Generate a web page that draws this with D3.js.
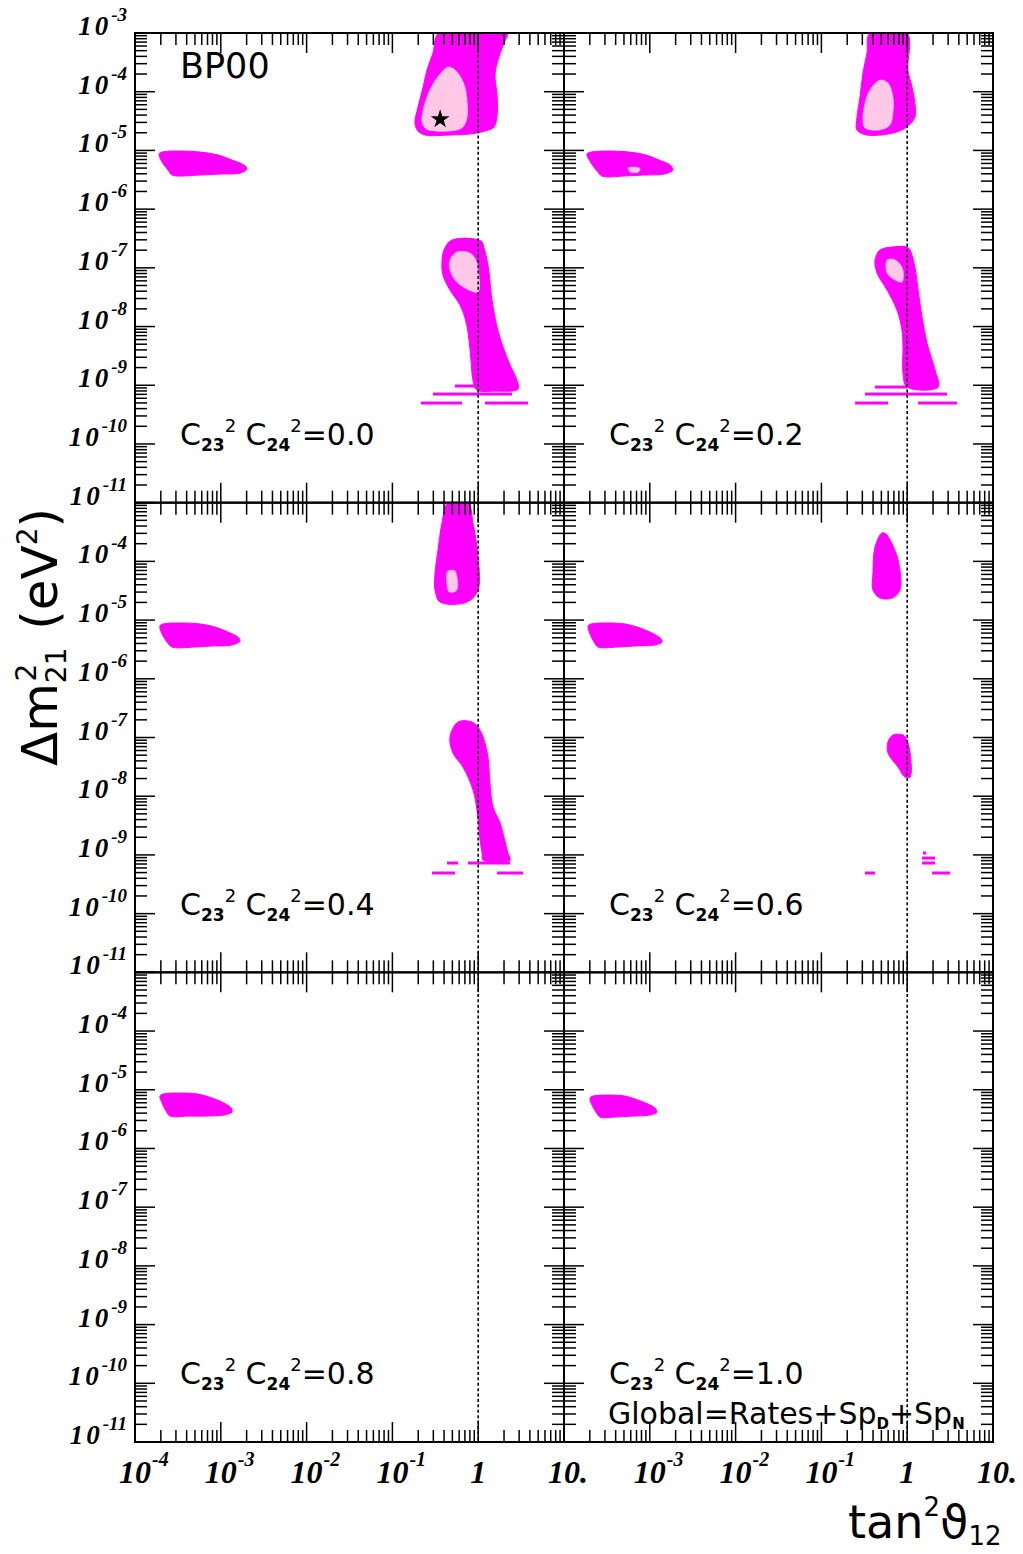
<!DOCTYPE html>
<html><head><meta charset="utf-8">
<script src="https://cdn.jsdelivr.net/npm/d3@7"></script>
<style>body{margin:0;background:#fff}</style>
</head><body>
<svg id="chart" width="1023" height="1554"></svg>
<script>
// ---------------- data ----------------
const panelValues = ["0.0","0.2","0.4","0.6","0.8","1.0"];
const xDomain = [1e-4, 10];
const yDomain = [1e-11, 1e-3];
const yTickExponents = [-3,-4,-5,-6,-7,-8,-9,-10,-11];
const xTickValuesLeft = [1e-4, 1e-3, 1e-2, 1e-1, 1, 10];
const xTickTextLeft = [["10","-4"],["10","-3"],["10","-2"],["10","-1"],["1",""],["10.",""]];
const xTickValuesRight = [1e-3, 1e-2, 1e-1, 1, 10];
const xTickTextRight = [["10","-3"],["10","-2"],["10","-1"],["1",""],["10.",""]];
const bestFit = [0.36, 3.4e-5];

// panel 1 : C23^2 C24^2 = 0.0
const p1VacOuter = [[1.91e-4,8.69e-6],[2.07e-4,9.39e-6],[3.34e-4,9.77e-6],[5.73e-4,9.39e-6],[9.27e-4,8.35e-6],[1.35e-3,6.86e-6],[1.86e-3,5.64e-6],[2.02e-3,4.82e-6],[1.68e-3,4.12e-6],[9.80e-4,3.96e-6],[5.73e-4,3.81e-6],[2.70e-4,3.81e-6],[2.43e-4,4.63e-6],[2.07e-4,6.34e-6]];
const p1LmaOuter = [[0.349,1e-3],[0.297,4.56e-4],[0.253,2.34e-4],[0.228,1.20e-4],[0.199,5.49e-5],[0.183,2.93e-5],[0.199,2.14e-5],[0.240,1.83e-5],[0.469,1.83e-5],[0.80,1.90e-5],[1.20,2.14e-5],[1.53,2.51e-5],[1.66,4.01e-5],[1.66,8.79e-5],[1.57,1.92e-4],[1.70,3.47e-4],[1.95,6.25e-4],[2.17,1e-3]];
const p1LmaInner = [[0.445,2.63e-4],[0.359,2.00e-4],[0.297,1.35e-4],[0.253,8.13e-5],[0.228,4.88e-5],[0.221,3.05e-5],[0.247,2.32e-5],[0.314,2.14e-5],[0.469,2.14e-5],[0.647,2.41e-5],[0.74,3.56e-5],[0.74,7.22e-5],[0.70,1.20e-4],[0.614,1.85e-4],[0.522,2.44e-4]];
const p1LowOuter = [[0.495,2.98e-7],[0.399,2.01e-7],[0.378,1.26e-7],[0.388,7.54e-8],[0.469,4.19e-8],[0.614,2.32e-8],[0.722,1.19e-8],[0.782,5.89e-9],[0.824,2.69e-9],[0.869,1.23e-9],[0.968,8.28e-10],[1.57,7.96e-10],[2.91,8.61e-10],[2.83,1.23e-9],[2.35,2.21e-9],[1.95,4.48e-9],[1.66,9.80e-9],[1.45,2.83e-8],[1.30,1.12e-7],[1.17,2.17e-7],[1.08,2.86e-7]];
const p1LowInner = [[0.566,1.86e-7],[0.469,1.36e-7],[0.469,9.18e-8],[0.537,6.19e-8],[0.70,4.53e-8],[0.995,3.87e-8],[1.02,7.54e-8],[0.94,1.36e-7],[0.80,1.79e-7]];
const p1LowStrips = [[0.537,1.80,9.7e-10],[0.297,2.48,7.08e-10],[0.215,0.647,4.98e-10],[1.20,3.80,4.98e-10]];

// panel 2 : 0.2
const p2VacOuter = [[1.85e-4,8.69e-6],[2.07e-4,9.39e-6],[3.34e-4,9.77e-6],[5.73e-4,9.39e-6],[9.04e-4,8.35e-6],[1.28e-3,6.86e-6],[1.72e-3,5.64e-6],[1.86e-3,4.63e-6],[1.47e-3,3.96e-6],[8.55e-4,3.81e-6],[5.0e-4,3.66e-6],[2.77e-4,3.66e-6],[2.43e-4,4.46e-6],[2.07e-4,6.10e-6]];
const p2VacInner = [[5.6e-4,5.0e-6],[6.5e-4,5.2e-6],[7.7e-4,4.9e-6],[7.4e-4,4.3e-6],[5.9e-4,4.3e-6]];
const p2LmaOuter = [[0.368,1e-3],[0.340,4.56e-4],[0.305,2.08e-4],[0.282,8.13e-5],[0.260,3.71e-5],[0.260,2.23e-5],[0.340,1.83e-5],[0.682,1.98e-5],[0.995,2.51e-5],[1.23,3.71e-5],[1.23,6.42e-5],[1.14,1.20e-4],[1.02,2.34e-4],[0.995,1e-3]];
const p2LmaInner = [[0.482,1.58e-4],[0.368,1.07e-4],[0.322,6.42e-5],[0.305,3.30e-5],[0.322,2.41e-5],[0.482,2.23e-5],[0.631,2.71e-5],[0.682,4.34e-5],[0.682,8.13e-5],[0.597,1.41e-4]];
const p2LowOuter = [[0.665,2.26e-7],[0.482,2.01e-7],[0.422,1.36e-7],[0.445,8.15e-8],[0.582,4.19e-8],[0.76,1.91e-8],[0.869,8.71e-9],[0.893,4.48e-9],[0.893,1.61e-9],[0.995,9.31e-10],[2.29,9.31e-10],[2.11,1.82e-9],[1.70,5.24e-9],[1.49,1.45e-8],[1.34,4.19e-8],[1.23,1.03e-7],[1.08,2.01e-7],[0.995,2.26e-7]];
const p2LowInner = [[0.582,1.36e-7],[0.582,8.15e-8],[0.722,6.19e-8],[0.869,5.73e-8],[0.893,9.18e-8],[0.782,1.26e-7],[0.665,1.41e-7]];
const p2LowStrips = [[0.422,0.995,9.31e-10],[0.322,2.91,7.08e-10],[0.247,0.597,4.98e-10],[1.34,3.80,4.98e-10]];

// panel 3 : 0.4
const p3VacOuter = [[1.95e-4,7.93e-6],[2.12e-4,8.59e-6],[3.34e-4,8.93e-6],[5.73e-4,8.59e-6],[8.55e-4,7.63e-6],[1.21e-3,6.27e-6],[1.58e-3,5.15e-6],[1.68e-3,4.41e-6],[1.35e-3,3.77e-6],[7.88e-4,3.62e-6],[5.0e-4,3.48e-6],[2.70e-4,3.48e-6],[2.36e-4,4.24e-6],[2.07e-4,5.79e-6]];
const p3LmaOuter = [[0.445,1e-3],[0.378,4.51e-4],[0.340,1.56e-4],[0.314,6.34e-5],[0.314,3.26e-5],[0.359,2.03e-5],[0.74,2.03e-5],[0.995,3.26e-5],[0.995,1.19e-4],[0.869,4.51e-4],[0.76,1e-3]];
const p3LmaInner = [[0.44,6.8e-5],[0.53,6.9e-5],[0.57,5.0e-5],[0.56,3.2e-5],[0.46,3.0e-5],[0.43,4.5e-5]];
const p3LowOuter = [[0.582,1.84e-7],[0.469,1.02e-7],[0.508,5.45e-8],[0.665,3.14e-8],[0.869,1.28e-8],[0.968,5.82e-9],[1.05,1.79e-9],[1.11,1.08e-9],[1.14,8.18e-10],[2.35,8.18e-10],[2.22,1.08e-9],[1.80,3.49e-9],[1.49,6.55e-9],[1.37,1.68e-8],[1.30,4.66e-8],[1.14,1.02e-7],[0.995,1.51e-7],[0.847,1.84e-7]];
const p3LowStrips = [[0.433,0.582,7.28e-10],[0.76,2.35,7.28e-10],[0.290,0.537,4.92e-10],[1.66,3.33,4.92e-10]];

// panel 4 : 0.6
const p4VacOuter = [[1.91e-4,7.93e-6],[2.07e-4,8.59e-6],[3.26e-4,8.93e-6],[5.14e-4,8.59e-6],[7.69e-4,7.33e-6],[1.06e-3,6.03e-6],[1.32e-3,4.95e-6],[1.39e-3,4.24e-6],[1.15e-3,3.77e-6],[6.73e-4,3.62e-6],[4.26e-4,3.48e-6],[2.49e-4,3.48e-6],[2.24e-4,4.24e-6],[2.01e-4,5.79e-6]];
const p4LmaOuter = [[0.508,3.05e-4],[0.422,1.76e-4],[0.399,6.34e-5],[0.399,3.26e-5],[0.482,2.38e-5],[0.665,2.38e-5],[0.824,3.26e-5],[0.782,1.06e-4],[0.631,2.32e-4],[0.566,2.93e-4]];
const p4LowOuter = [[0.682,1.10e-7],[0.597,8.38e-8],[0.597,5.45e-8],[0.782,3.14e-8],[0.94,2.12e-8],[1.08,2.12e-8],[1.08,5.45e-8],[0.995,9.06e-8],[0.893,1.10e-7]];
const p4LowStrips = [[1.53,1.66,1.08e-9],[1.49,2.11,8.85e-10],[1.49,2.11,7.28e-10],[0.322,0.422,4.92e-10],[1.95,3.16,4.92e-10]];

// panel 5 : 0.8
const p5VacOuter = [[1.95e-4,7.81e-6],[2.12e-4,8.45e-6],[3.34e-4,8.79e-6],[5.42e-4,8.45e-6],[7.88e-4,7.22e-6],[1.09e-3,5.94e-6],[1.32e-3,4.88e-6],[1.35e-3,4.17e-6],[1.09e-3,3.71e-6],[6.55e-4,3.56e-6],[4.15e-4,3.56e-6],[2.56e-4,3.56e-6],[2.30e-4,4.34e-6],[2.07e-4,5.94e-6]];
// panel 6 : 1.0
const p6VacOuter = [[2.01e-4,7.22e-6],[2.18e-4,7.81e-6],[3.26e-4,8.12e-6],[5.14e-4,7.81e-6],[7.28e-4,6.68e-6],[9.53e-4,5.71e-6],[1.15e-3,4.88e-6],[1.21e-3,4.17e-6],[1.00e-3,3.71e-6],[6.21e-4,3.56e-6],[3.93e-4,3.43e-6],[2.63e-4,3.43e-6],[2.36e-4,4.17e-6],[2.12e-4,5.48e-6]];

// ---------------- layout ----------------
const L = 135, T = 33, PW = 429, PH = 469.67;
const MAGENTA = "#ff00ff", PINK = "#ffc8e6";
const SANS = "DejaVu Sans, Verdana, sans-serif";
const SERIF = "Liberation Serif, Times New Roman, serif";

const panels = [
  {outer:[p1VacOuter,p1LmaOuter,p1LowOuter], inner:[p1LmaInner,p1LowInner], strips:p1LowStrips},
  {outer:[p2VacOuter,p2LmaOuter,p2LowOuter], inner:[p2VacInner,p2LmaInner,p2LowInner], strips:p2LowStrips},
  {outer:[p3VacOuter,p3LmaOuter,p3LowOuter], inner:[p3LmaInner], strips:p3LowStrips},
  {outer:[p4VacOuter,p4LmaOuter,p4LowOuter], inner:[], strips:p4LowStrips},
  {outer:[p5VacOuter], inner:[], strips:[]},
  {outer:[p6VacOuter], inner:[], strips:[]}
];

const svg = d3.select("#chart");
const defs = svg.append("defs");
const isMajor = v => Math.abs(Math.log10(v) - Math.round(Math.log10(v))) < 1e-9;

panels.forEach((p, i) => {
  const r = Math.floor(i / 2), c = i % 2;
  const x0 = L + c * PW, y0 = T + r * PH;
  const xs = d3.scaleLog().domain(xDomain).range([x0, x0 + PW]);
  const ys = d3.scaleLog().domain(yDomain).range([y0 + PH, y0]);
  const clipId = "clip" + i;
  defs.append("clipPath").attr("id", clipId).append("rect")
    .attr("x", x0).attr("y", y0).attr("width", PW).attr("height", PH);
  const g = svg.append("g").attr("clip-path", `url(#${clipId})`);
  const line = d3.line().x(d => xs(d[0])).y(d => ys(d[1]))
    .curve(d3.curveCatmullRomClosed.alpha(0.5));

  g.selectAll("path.outer").data(p.outer).join("path").attr("class","outer")
    .attr("d", line).attr("fill", MAGENTA).attr("stroke", MAGENTA).attr("stroke-width", 1);
  g.selectAll("rect.strip").data(p.strips).join("rect").attr("class","strip")
    .attr("x", d => xs(d[0])).attr("width", d => xs(d[1]) - xs(d[0]))
    .attr("y", d => ys(d[2]) - 1.5).attr("height", 3).attr("fill", MAGENTA);
  g.selectAll("path.inner").data(p.inner).join("path").attr("class","inner")
    .attr("d", line).attr("fill", PINK).attr("stroke", PINK).attr("stroke-width", 0.5);

  // dashed line at tan^2 = 1
  g.append("line").attr("x1", xs(1)).attr("x2", xs(1)).attr("y1", y0).attr("y2", y0 + PH)
    .attr("stroke", "#000").attr("stroke-width", 1.6).attr("stroke-dasharray", "3,2.4");

  if (i === 0) {
    g.append("path").attr("d", d3.symbol().type(d3.symbolStar).size(110)())
      .attr("transform", `translate(${xs(bestFit[0])},${ys(bestFit[1])})`).attr("fill", "#000");
  }

  // ticks
  const tg = svg.append("g").attr("stroke", "#000").attr("stroke-width", 1.5);
  const xt = xs.ticks(), yt = ys.ticks();
  xt.forEach(v => {
    const len = isMajor(v) ? 20 : 12, X = xs(v);
    tg.append("line").attr("x1", X).attr("x2", X).attr("y1", y0 + PH).attr("y2", y0 + PH - len);
    tg.append("line").attr("x1", X).attr("x2", X).attr("y1", y0).attr("y2", y0 + len);
  });
  yt.forEach(v => {
    const len = isMajor(v) ? 20 : 12, Y = ys(v);
    tg.append("line").attr("x1", x0).attr("x2", x0 + len).attr("y1", Y).attr("y2", Y);
    tg.append("line").attr("x1", x0 + PW).attr("x2", x0 + PW - len).attr("y1", Y).attr("y2", Y);
  });
  svg.append("rect").attr("x", x0).attr("y", y0).attr("width", PW).attr("height", PH)
    .attr("fill", "none").attr("stroke", "#000").attr("stroke-width", 2);

  // y tick labels (left column)
  if (c === 0) {
    yTickExponents.forEach(e => {
      if (r > 0 && e === -3) return;
      const t = svg.append("text").attr("x", 127).attr("y", ys(Math.pow(10, e)) + 2)
        .attr("text-anchor", "end").attr("font-family", SERIF)
        .attr("font-weight", "bold").attr("font-style", "italic");
      t.append("tspan").attr("font-size", 27).attr("letter-spacing", 3).text("10");
      t.append("tspan").attr("font-size", 19).attr("dy", -14).text(String(e));
    });
  }

  // panel label
  const lab = svg.append("text").attr("x", x0 + 45).attr("y", y0 + 412)
    .attr("font-family", SANS).attr("font-size", 30);
  lab.append("tspan").text("C");
  lab.append("tspan").attr("font-size", 17).attr("font-weight", "bold").attr("dy", 6).text("23");
  lab.append("tspan").attr("font-size", 18).attr("dy", -19).text("2");
  lab.append("tspan").attr("dy", 13).text(" C");
  lab.append("tspan").attr("font-size", 17).attr("font-weight", "bold").attr("dy", 6).text("24");
  lab.append("tspan").attr("font-size", 18).attr("dy", -19).text("2");
  lab.append("tspan").attr("dy", 13).text("=" + panelValues[i]);

  // x tick labels (bottom row)
  if (r === 2) {
    const vals = c === 0 ? xTickValuesLeft : xTickValuesRight;
    const txt = c === 0 ? xTickTextLeft : xTickTextRight;
    vals.forEach((v, k) => {
      const X = xs(v);
      const [base, exp] = txt[k];
      svg.append("text").attr("x", X + (base === "10." ? 4 : 0)).attr("y", 1483)
        .attr("text-anchor", "middle").attr("font-family", SERIF).attr("font-size", 32)
        .attr("font-weight", "bold").attr("font-style", "italic").text(base);
      if (exp) {
        svg.append("text").attr("x", X + 17).attr("y", 1466)
          .attr("font-family", SERIF).attr("font-size", 20)
          .attr("font-weight", "bold").attr("font-style", "italic").text(exp);
      }
    });
  }
});

// BP00
svg.append("text").attr("x", 180).attr("y", 78).attr("font-family", SANS)
  .attr("font-size", 35).text("BP00");

// Global line
const gl = svg.append("text").attr("x", 608).attr("y", 1424)
  .attr("font-family", SANS).attr("font-size", 30);
gl.append("tspan").text("Global=Rates+Sp");
gl.append("tspan").attr("font-size", 15).attr("font-weight", "bold").attr("dy", 5).text("D");
gl.append("tspan").attr("dy", -5).text("+Sp");
gl.append("tspan").attr("font-size", 15).attr("font-weight", "bold").attr("dy", 5).text("N");

// x axis title
const xtTitle = svg.append("text").attr("x", 848).attr("y", 1538)
  .attr("font-family", SANS).attr("font-size", 46);
xtTitle.append("tspan").text("tan");
xtTitle.append("tspan").attr("font-size", 26).attr("dy", -22).text("2");
xtTitle.append("tspan").attr("dy", 22).text("ϑ");
xtTitle.append("tspan").attr("font-size", 26).attr("dy", 7).text("12");

// y axis title
const ytTitle = svg.append("text").attr("transform", "translate(57,637) rotate(-90)")
  .attr("text-anchor", "middle").attr("font-family", SANS).attr("font-size", 50);
ytTitle.append("tspan").text("Δm");
ytTitle.append("tspan").attr("font-size", 28).attr("dy", 9).text("21");
ytTitle.append("tspan").attr("font-size", 28).attr("dy", -30).attr("dx", -34).text("2");
ytTitle.append("tspan").attr("dy", 21).attr("dx", 18).text(" (eV");
ytTitle.append("tspan").attr("font-size", 28).attr("dy", -20).text("2");
ytTitle.append("tspan").attr("dy", 20).text(")");
</script>
</body></html>
